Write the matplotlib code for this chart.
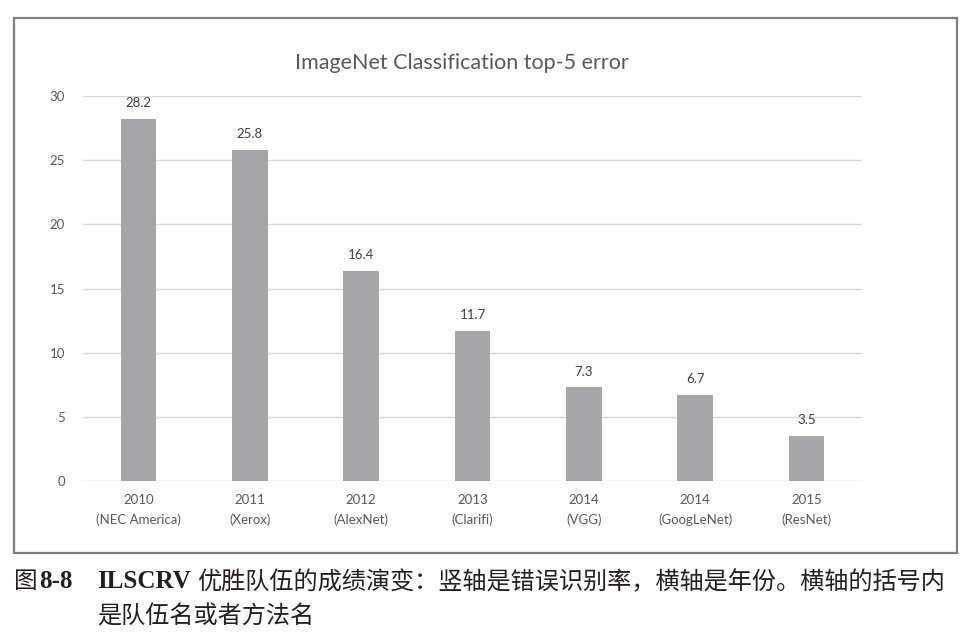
import matplotlib.pyplot as plt
from matplotlib.patches import Rectangle

years = ['2010', '2011', '2012', '2013', '2014', '2014', '2015']
teams = ['NEC America', 'Xerox', 'AlexNet', 'Clarifi', 'VGG', 'GoogLeNet', 'ResNet']
errors = [28.2, 25.8, 16.4, 11.7, 7.3, 6.7, 3.5]
yticks = [0, 5, 10, 15, 20, 25, 30]

W, H = 970, 636
fig = plt.figure(figsize=(W / 100, H / 100), dpi=100)
fig.patch.set_facecolor('white')

def fx(px):
    return px / W

def fy(py):
    return 1 - py / H

# outer frame of the figure box
fig.patches.append(Rectangle((fx(14), fy(553)), fx(957) - fx(14), fy(18) - fy(553),
                             transform=fig.transFigure, fill=False,
                             edgecolor='#7f7f7f', linewidth=1.6))

ax = fig.add_axes([fx(83), fy(481), fx(862) - fx(83), fy(96) - fy(481)])
labels = [f'{y}\n({t})' for y, t in zip(years, teams)]
x = range(len(errors))
bars = ax.bar(x, errors, width=0.32, color='#a6a6a8', zorder=3)

for i, v in enumerate(errors):
    ax.annotate(f'{v}', (i, v), xytext=(0, 7), textcoords='offset points',
                ha='center', va='bottom', fontsize=9.5, color='#404040', family='Lato')

ax.set_xlim(-0.5, len(errors) - 0.5)
ax.set_ylim(0, 30)
ax.set_yticks(yticks)
ax.set_xticks(list(x))
ax.set_xticklabels(labels, linespacing=1.75)
ax.grid(axis='y', color='#d9d9d9', linewidth=1, zorder=0)
for s in ax.spines.values():
    s.set_visible(False)
ax.tick_params(axis='both', length=0, labelsize=9.5, colors='#595959')
ax.tick_params(axis='x', pad=9)
ax.tick_params(axis='y', pad=13)
for lab in ax.get_xticklabels() + ax.get_yticklabels():
    lab.set_family('Lato')

fig.text(fx(462), fy(63), 'ImageNet Classification top-5 error', ha='center', va='center',
         fontsize=15.5, color='#595959', family='Lato')

# caption below the frame
cjk = ['Noto Sans CJK SC', 'DejaVu Sans']
fig.text(fx(14), fy(582), '图', ha='left', va='center', fontsize=17, color='#231f20', family=cjk)
fig.text(fx(39), fy(582), '8-8', ha='left', va='center', fontsize=18, color='#231f20',
         family='Liberation Serif', weight='bold')
fig.text(fx(97), fy(582), 'ILSCRV', ha='left', va='center', fontsize=18, color='#231f20',
         family='Liberation Serif', weight='bold')
fig.text(fx(197), fy(582), '优胜队伍的成绩演变：竖轴是错误识别率，横轴是年份。横轴的括号内',
         ha='left', va='center', fontsize=17.4, color='#231f20', family=cjk)
fig.text(fx(97), fy(617), '是队伍名或者方法名', ha='left', va='center', fontsize=17.4,
         color='#231f20', family=cjk)

fig.savefig('out.png', dpi=100)
